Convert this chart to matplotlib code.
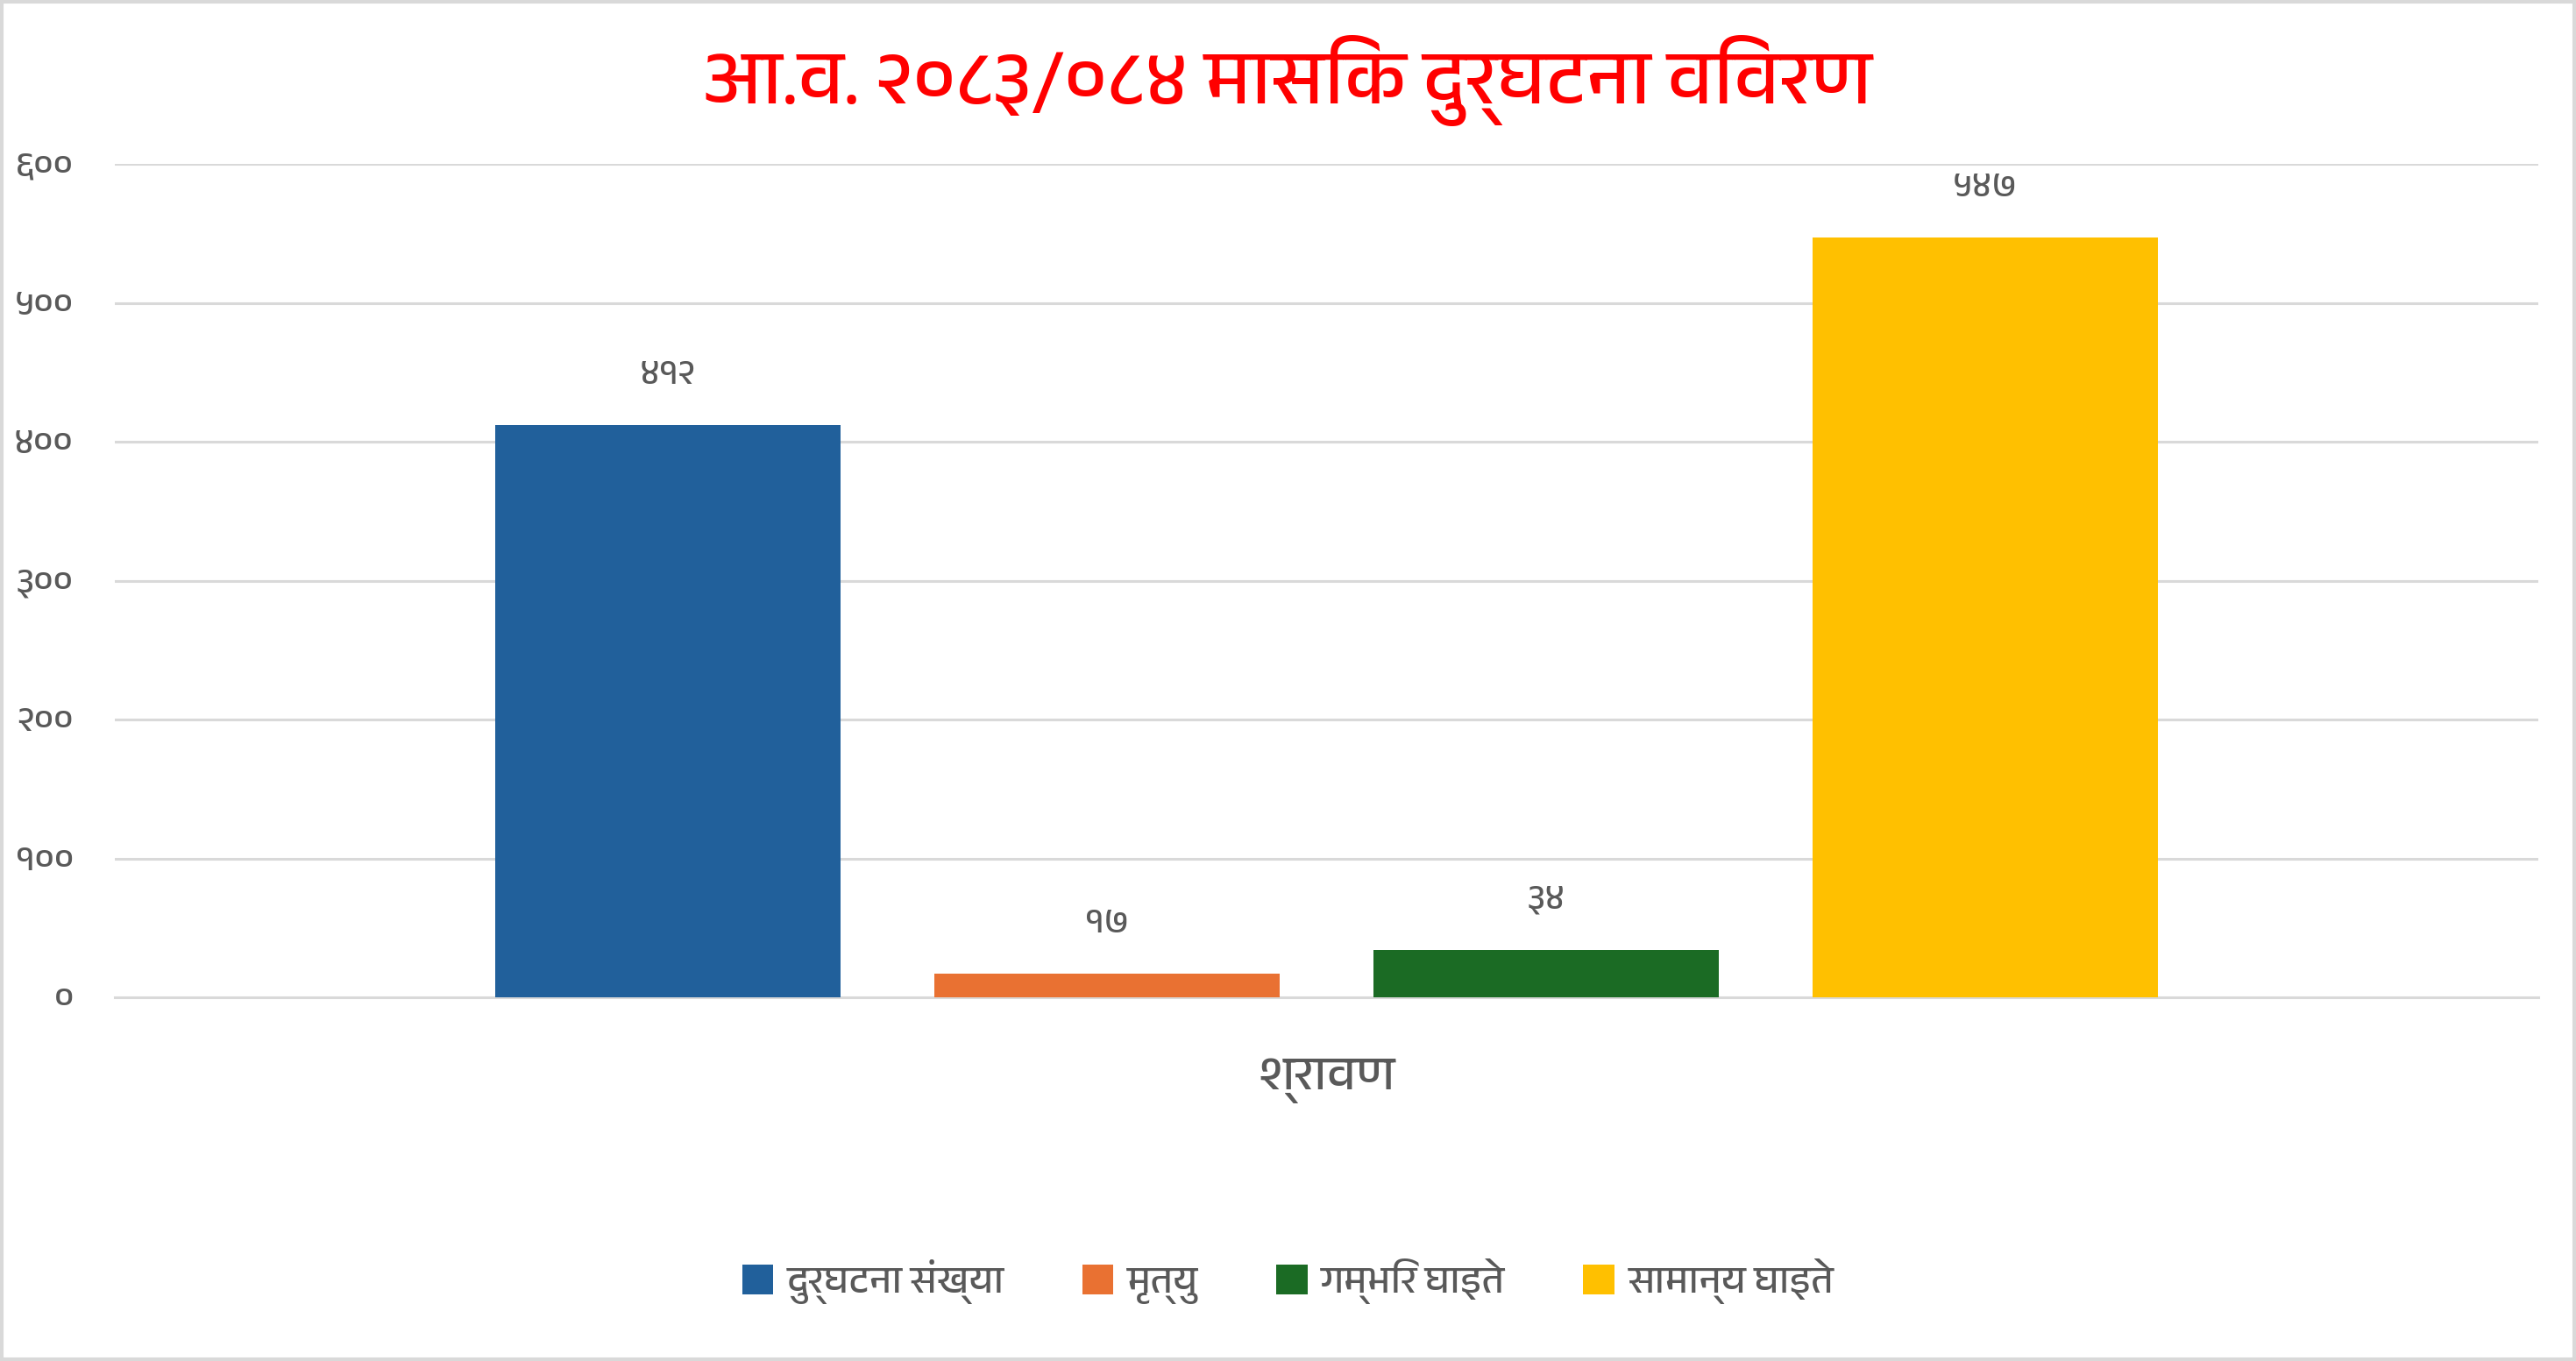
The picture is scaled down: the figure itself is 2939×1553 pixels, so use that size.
import matplotlib
matplotlib.use("Agg")
import matplotlib.pyplot as plt
from matplotlib import font_manager as fm
from matplotlib.ft2font import FT2Font
from matplotlib.patches import Rectangle

# Data
title = "आ.व. २०८३/०८४ मासिक दुर्घटना विवरण"
category = "श्रावण"
series_names = ["दुर्घटना संख्या", "मृत्यु", "गम्भिर घाइते", "सामान्य घाइते"]
series_values = [412, 17, 34, 547]
series_colors = ["#21609B", "#E97132", "#1B6B24", "#FFC000"]
y_ticks = [0, 100, 200, 300, 400, 500, 600]

DEVA_DIGITS = "०१२३४५६७८९"


def to_deva(n):
    return "".join(DEVA_DIGITS[int(c)] for c in str(n))


# find a font with devanagari glyphs
def find_deva_font():
    for f in fm.fontManager.ttflist:
        if "Devanagari" in f.name:
            return f.name
    for f in fm.fontManager.ttflist:
        try:
            if 0x0915 in FT2Font(f.fname).get_charmap():
                return f.name
        except Exception:
            pass
    return None


deva = find_deva_font()
families = ([deva] if deva else []) + ["DejaVu Sans"]
plt.rcParams["font.family"] = families

grey_text = "#595959"
grid_col = "#D9D9D9"

fig = plt.figure(figsize=(29.39, 15.53), dpi=100)
ax = fig.add_axes([131 / 2939, 1 - 1138 / 1553, (2896 - 131) / 2939, (1138 - 187) / 1553])

x = list(range(len(series_values)))
bars = ax.bar(x, series_values, width=0.786, color=series_colors, label=series_names, zorder=3)

for xi, v in zip(x, series_values):
    ax.annotate(to_deva(v), (xi, v), xytext=(0, 41), textcoords="offset points",
                ha="center", va="center", fontsize=29, color=grey_text)

ax.set_xlim(-1.26, 4.26)
ax.set_ylim(0, 600)
ax.set_yticks(y_ticks)
ax.set_yticklabels([to_deva(t) for t in y_ticks], fontsize=29, color=grey_text)
ax.tick_params(axis="y", length=0, pad=34)
ax.set_xticks([1.5])
ax.set_xticklabels([category], fontsize=40, color=grey_text)
ax.tick_params(axis="x", length=0, pad=50)
ax.grid(axis="y", color=grid_col, linewidth=2.2, zorder=0)
for s in ["top", "right", "left"]:
    ax.spines[s].set_visible(False)
ax.spines["bottom"].set_color(grid_col)
ax.spines["bottom"].set_linewidth(2.2)

fig.text(0.5, 1 - 92 / 1553, title, ha="center", va="center", fontsize=63,
         fontweight="bold", color="#FF0000")

leg = fig.legend(handles=bars, labels=series_names, loc="center", bbox_to_anchor=(0.5, 1 - 1462 / 1553),
                 ncol=4, frameon=False, fontsize=32, handlelength=0.8, handleheight=0.8,
                 handletextpad=0.35, columnspacing=2.0)
for t in leg.get_texts():
    t.set_color(grey_text)

# outer border
fig.patches.append(Rectangle((0.0008, 0.0015), 0.9984, 0.997, transform=fig.transFigure,
                             fill=False, edgecolor=grid_col, linewidth=3))

fig.savefig("out.png", dpi=100, facecolor="white")
